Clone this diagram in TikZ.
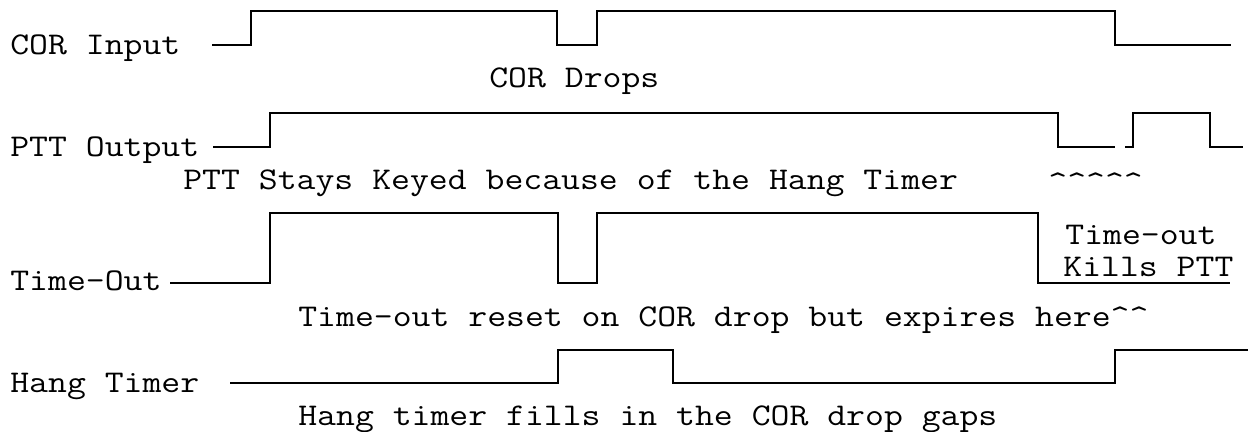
\documentclass[tikz,border=0pt]{standalone}
\usepackage{fontspec}
\usepackage{graphicx}

% widen Latin Modern Mono to the pitch of the original typewriter text
\newcommand{\widetext}[1]{\scalebox{1.16}[1]{#1}}

\begin{document}
\begin{tikzpicture}[x=0.02cm,y=-0.02cm,
    lbl/.style={anchor=base west,inner sep=0pt,font=\fontsize{18}{20}\ttfamily},
    wave/.style={line width=1.1pt}]

\useasboundingbox (0,0) rectangle (1248,432);

% COR input
\draw[wave] (212,45) -- (251,45) -- (251,11) -- (557,11) -- (557,45) --
            (597,45) -- (597,11) -- (1115,11) -- (1115,45) -- (1231,45);

% PTT output
\draw[wave] (213,147) -- (270,147) -- (270,113) -- (1058,113) --
            (1058,147) -- (1115,147);
\draw[wave] (1125,147) -- (1133,147) -- (1133,113) -- (1210,113) --
            (1210,147) -- (1243,147);

% time-out
\draw[wave] (170,283) -- (270,283) -- (270,213) -- (558,213) -- (558,283) --
            (597,283) -- (597,213) -- (1038,213) -- (1038,283) -- (1230,283);

% hang timer
\draw[wave] (230,383) -- (558,383) -- (558,350) -- (673,350) --
            (673,383) -- (1115,383) -- (1115,350) -- (1248,350);

% labels
\node[lbl] (corin)   at (10,55)    {\widetext{COR Input}};
\node[lbl] (cordrop) at (489,88)   {\widetext{COR Drops}};
\node[lbl] (pttout)  at (10,157)   {\widetext{PTT Output}};
\node[lbl] (pttkey)  at (183,190)  {\widetext{PTT Stays Keyed because of the Hang Timer}};
\node[lbl] (carets)  at (1048,193) {\widetext{\textasciicircum\textasciicircum\textasciicircum\textasciicircum\textasciicircum}};
\node[lbl] (tokill)  at (1065,245) {\widetext{Time-out}};
\node[lbl] (kills)   at (1063,276) {\widetext{Kills PTT}};
\node[lbl] (toout)   at (10,291)   {\widetext{Time-Out}};
\node[lbl] (toreset) at (298,327)  {\widetext{Time-out reset on COR drop but expires here\textasciicircum\textasciicircum}};
\node[lbl] (hang)    at (10,392)   {\widetext{Hang Timer}};
\node[lbl] (hangfil) at (298,425)  {\widetext{Hang timer fills in the COR drop gaps}};

\end{tikzpicture}
\end{document}
